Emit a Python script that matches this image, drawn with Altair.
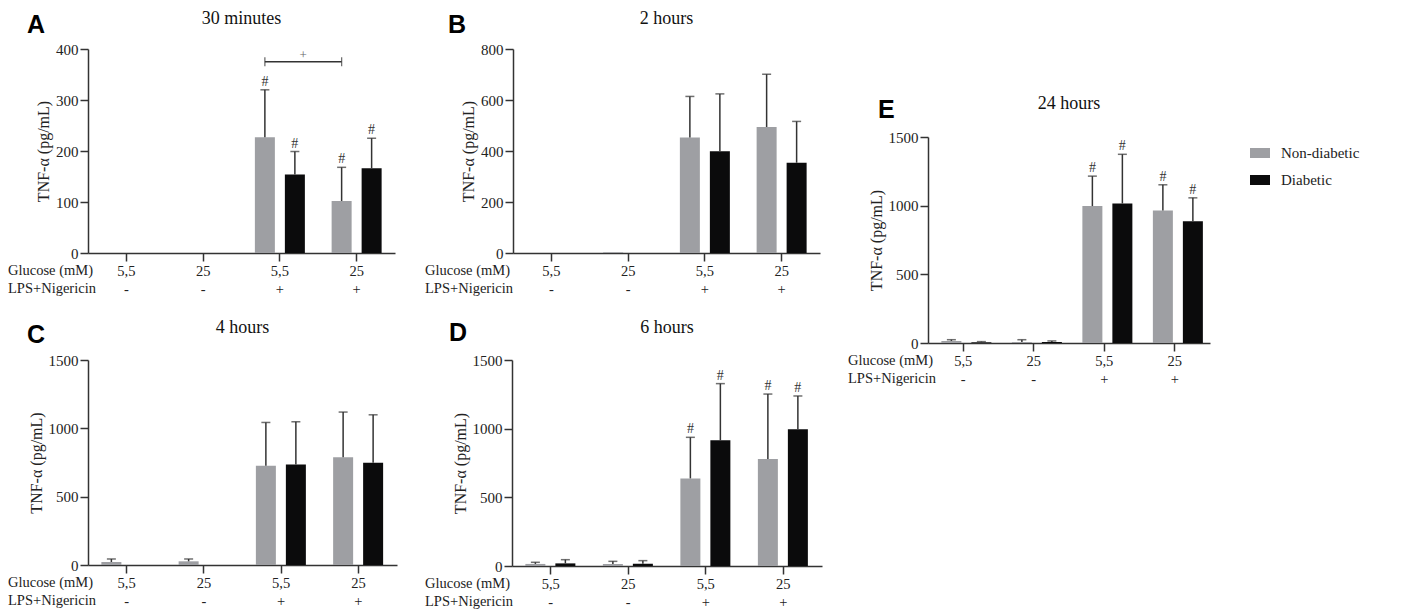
import altair as alt
import pandas as pd

# ---------------- data ----------------
conditions = ["5,5|-", "25|-", "5,5|+", "25|+"]
groups = ["Non-diabetic", "Diabetic"]

A_ND = [0, 0, 227, 102]
A_ND_TOP = [0, 0, 320, 168]
A_D = [0, 0, 154, 166]
A_D_TOP = [0, 0, 199, 225]
A_HASH_ND = [0, 0, 1, 1]
A_HASH_D = [0, 0, 1, 1]

B_ND = [0, 3, 453, 494]
B_ND_TOP = [0, 0, 614, 701]
B_D = [0, 0, 399, 354]
B_D_TOP = [0, 0, 624, 516]
B_HASH_ND = [0, 0, 0, 0]
B_HASH_D = [0, 0, 0, 0]

C_ND = [22, 27, 726, 789]
C_ND_TOP = [44, 44, 1043, 1119]
C_D = [0, 0, 735, 748]
C_D_TOP = [0, 0, 1048, 1099]
C_HASH_ND = [0, 0, 0, 0]
C_HASH_D = [0, 0, 0, 0]

D_ND = [15, 15, 638, 779]
D_ND_TOP = [27, 34, 937, 1252]
D_D = [19, 17, 915, 995]
D_D_TOP = [46, 39, 1328, 1238]
D_HASH_ND = [0, 0, 1, 1]
D_HASH_D = [0, 0, 1, 1]

E_ND = [15, 7, 997, 965]
E_ND_TOP = [24, 24, 1215, 1152]
E_D = [5, 7, 1016, 886]
E_D_TOP = [10, 15, 1374, 1057]
E_HASH_ND = [0, 0, 1, 1]
E_HASH_D = [0, 0, 1, 1]

# significance bracket in panel A
BRACKET_FROM = "5,5|+"
BRACKET_TO = "25|+"
BRACKET_Y = 375
BRACKET_LABEL_Y = 388

SERIF = "Liberation Serif"
SANS = "Liberation Sans"
GRAY = "#9e9fa3"
BLACK = "#0b0b0c"
ERR = "#333333"


def make_df(nd, nd_top, d, d_top, h_nd, h_d):
    rows = []
    for i, c in enumerate(conditions):
        rows.append({"cond": c, "grp": groups[0], "val": nd[i], "top": nd_top[i], "hash": h_nd[i]})
        rows.append({"cond": c, "grp": groups[1], "val": d[i], "top": d_top[i], "hash": h_d[i]})
    return pd.DataFrame(rows)


def panel(letter, title, df, ymax, ystep, width, height, head_x, letter_x,
          title_y, letter_y, sub_pad_outer, legend=False, bracket=False):
    xscale = alt.Scale(domain=conditions, paddingInner=0, paddingOuter=0)
    xenc = alt.X("cond:N", scale=xscale, title=None,
                 axis=alt.Axis(labelExpr="split(datum.label, '|')", labelAngle=0,
                               labelLineHeight=18, labelPadding=3, tickSize=8,
                               labelFont=SERIF, labelFontSize=14.5, labelColor="#222",
                               domainColor="#333", tickColor="#333",
                               domainWidth=1.5, tickWidth=1.5))
    xsimple = alt.X("cond:N", scale=xscale)
    xoff = alt.XOffset("grp:N", scale=alt.Scale(domain=groups, paddingInner=1 / 3,
                                                paddingOuter=sub_pad_outer))
    yscale = alt.Scale(domain=[0, ymax], nice=False)
    yaxis = alt.Axis(values=list(range(0, ymax + 1, ystep)), format="d", grid=False,
                     tickSize=8, labelPadding=2, labelFont=SERIF, labelFontSize=15,
                     labelColor="#222", domainColor="#333", tickColor="#333",
                     domainWidth=1.5, tickWidth=1.5,
                     title="TNF-α (pg/mL)", titleFont=SERIF, titleFontSize=16,
                     titleFontWeight="normal", titleColor="#222", titlePadding=4)
    if legend:
        leg = alt.Legend(title=None, orient="none", legendX=width + 40, legendY=6,
                         symbolType="M-1,-0.5H1V0.5H-1Z", symbolSize=400,
                         symbolStrokeWidth=0, labelFont=SERIF, labelFontSize=15,
                         labelColor="#222", rowPadding=9, labelOffset=11, padding=0)
    else:
        leg = None
    color = alt.Color("grp:N", scale=alt.Scale(domain=groups, range=[GRAY, BLACK]),
                      legend=leg)

    base = alt.Chart(df)
    bars = base.mark_bar().encode(x=xenc, xOffset=xoff,
                                  y=alt.Y("val:Q", scale=yscale, axis=yaxis), color=color)
    errdf = base.transform_filter("datum.top > datum.val")
    err = errdf.mark_rule(color=ERR, strokeWidth=1.5).encode(
        x=xsimple, xOffset=xoff, y="val:Q", y2="top:Q")
    cap = errdf.mark_tick(color=ERR, thickness=1.5, size=9).encode(
        x=xsimple, xOffset=xoff, y="top:Q")
    hashes = base.transform_filter("datum.hash == 1").mark_text(
        text="#", font=SERIF, fontSize=14, color="#333", baseline="alphabetic", dy=-4
    ).encode(x=xsimple, xOffset=xoff, y="top:Q")

    one = pd.DataFrame({"k": [0]})
    heads = alt.Chart(one).mark_text(
        font=SERIF, fontSize=14.5, color="#222", align="left", baseline="top",
        lineBreak="\n", lineHeight=18
    ).encode(x=alt.value(head_x), y=alt.value(height + 11),
             text=alt.value("Glucose (mM)\nLPS+Nigericin"))
    let = alt.Chart(one).mark_text(
        font=SANS, fontSize=25, fontWeight="bold", color="#000", align="left",
        baseline="alphabetic"
    ).encode(x=alt.value(letter_x), y=alt.value(letter_y), text=alt.value(letter))
    ttl = alt.Chart(one).mark_text(
        font=SERIF, fontSize=18, color="#111", align="center", baseline="alphabetic"
    ).encode(x=alt.value(width / 2), y=alt.value(title_y), text=alt.value(title))

    layers = [bars, err, cap, hashes, heads, let, ttl]

    if bracket:
        bdf = pd.DataFrame({"c1": [BRACKET_FROM], "c2": [BRACKET_TO],
                            "y": [BRACKET_Y], "ly": [BRACKET_LABEL_Y]})
        bb = alt.Chart(bdf)
        brule = bb.mark_rule(color="#333", strokeWidth=1.3, xOffset=-15, x2Offset=-15).encode(
            x=alt.X("c1:N", scale=xscale), x2="c2:N", y="y:Q")
        bcap1 = bb.mark_tick(color="#333", thickness=1.3, size=9, orient="vertical",
                             xOffset=-15).encode(x=alt.X("c1:N", scale=xscale), y="y:Q")
        bcap2 = bb.mark_tick(color="#333", thickness=1.3, size=9, orient="vertical",
                             xOffset=-15).encode(x=alt.X("c2:N", scale=xscale), y="y:Q")
        blab = bb.mark_text(text="+", font=SERIF, fontSize=13, color="#666",
                            baseline="middle", dx=-15).encode(
            x=alt.X("c2:N", scale=xscale, bandPosition=0), y="ly:Q")
        layers += [brule, bcap1, bcap2, blab]

    return alt.layer(*layers).properties(width=width, height=height)


pA = panel("A", "30 minutes", make_df(A_ND, A_ND_TOP, A_D, A_D_TOP, A_HASH_ND, A_HASH_D),
           400, 100, 307, 204, -80, -61, -25, -16, 0.446, bracket=True)
pB = panel("B", "2 hours", make_df(B_ND, B_ND_TOP, B_D, B_D_TOP, B_HASH_ND, B_HASH_D),
           800, 200, 307, 204, -88, -65, -25, -16, 0.446)
pC = panel("C", "4 hours", make_df(C_ND, C_ND_TOP, C_D, C_D_TOP, C_HASH_ND, C_HASH_D),
           1500, 500, 309, 205, -80, -61, -27, -17, 0.446)
pD = panel("D", "6 hours", make_df(D_ND, D_ND_TOP, D_D, D_D_TOP, D_HASH_ND, D_HASH_D),
           1500, 500, 310, 206, -87, -63, -27, -19, 0.446)
pE = panel("E", "24 hours", make_df(E_ND, E_ND_TOP, E_D, E_D_TOP, E_HASH_ND, E_HASH_D),
           1500, 500, 282, 206, -80, -50, -28, -19, 0.472, legend=True)

spacer = alt.Chart(pd.DataFrame({"k": [0]})).mark_text(text="").encode(
    x=alt.value(0), y=alt.value(0)).properties(width=1, height=46)

res = dict(color="independent", x="independent", y="independent")
row1 = alt.hconcat(pA, pB, spacing=30).resolve_scale(**res)
row2 = alt.hconcat(pC, pD, spacing=28).resolve_scale(**res)
left = alt.vconcat(row1, row2, spacing=23).resolve_scale(**res)
right = alt.vconcat(spacer, pE, spacing=0).resolve_scale(**res)

chart = alt.hconcat(left, right, spacing=26).resolve_scale(**res).properties(
    padding={"top": 2, "left": 0, "right": 0, "bottom": 0},
    background="white").configure_view(strokeWidth=0)

chart.save("out.html", embed_options={"renderer": "svg", "actions": False})
